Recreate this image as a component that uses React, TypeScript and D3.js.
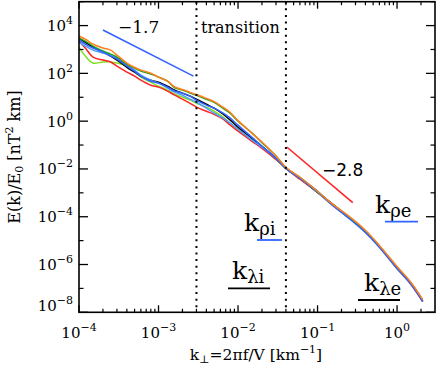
import React from 'react';
import * as d3 from 'd3';

// wavenumber grid (km^-1)
const kValues = [1e-4, 1.2e-4, 1.5e-4, 2e-4, 2.5e-4, 3e-4, 4e-4, 5e-4, 6e-4, 8e-4, 1e-3, 1.3e-3, 1.6e-3, 2e-3, 2.5e-3, 3e-3, 4e-3, 5e-3, 6.5e-3, 8e-3, 0.01, 0.015, 0.02, 0.03, 0.04, 0.06, 0.1, 0.15, 0.25, 0.4, 0.6, 1.0, 1.5, 2.1];

const blackE = [3.0e3, 2.0e3, 1.26e3, 7.8e2, 5.3e2, 3.6e2, 1.8e2, 1.13e2, 77, 52, 43, 29, 20, 14.9, 11.1, 8.3, 5.1, 3.5, 1.95, 1.1, 0.56, 0.19, 0.089, 0.028, 0.0106, 4.1e-3, 1.05e-3, 3.6e-4, 9.4e-5, 2.4e-5, 5.7e-6, 7.5e-7, 1.6e-7, 3.1e-8];
const orangeE = [3.65e3, 2.7e3, 1.68e3, 1.15e3, 9.4e2, 5.8e2, 2.7e2, 1.8e2, 1.37e2, 1.02e2, 70, 47, 27, 21, 16, 13, 9.0, 6.6, 3.8, 2.3, 1.05, 0.31, 0.135, 0.035, 0.0117, 4.5e-3, 1.16e-3, 3.6e-4, 1.03e-4, 2.7e-5, 6.3e-6, 8.3e-7, 1.77e-7, 3.4e-8];
const greenE = [3.0e3, 2.25e3, 1.39e3, 8.6e2, 6.4e2, 4.8e2, 2.4e2, 1.66e2, 1.24e2, 93, 70, 47, 25, 20, 15, 12, 8.2, 6.2, 3.4, 2.1, 1.0, 0.32, 0.125, 0.035, 0.0112, 4.4e-3, 1.12e-3, 3.6e-4, 9.4e-5, 2.4e-5, 5.7e-6, 7.5e-7, 1.6e-7, 3.1e-8];
const redE = [2.25e3, 1.15e3, 4.8e2, 3.6e2, 3.0e2, 2.0e2, 1.13e2, 77, 52, 32, 26.5, 18, 12.2, 8.3, 5.6, 3.85, 2.6, 1.95, 1.21, 0.68, 0.38, 0.144, 0.073, 0.025, 0.0106, 3.7e-3, 1.05e-3, 3.3e-4, 9.4e-5, 2.4e-5, 5.7e-6, 6.8e-7, 1.46e-7, 2.8e-8];
const lightGreenE = [1.26e3, 5.3e2, 2.7e2, 3.0e2, 3.0e2, 2.7e2, 2.0e2, 1.24e2, 70, 43, 29, 20, 13.5, 10.1, 7.6, 5.6, 3.85, 2.6, 1.47, 0.82, 0.46, 0.159, 0.081, 0.025, 0.0106, 4.1e-3, 1.05e-3, 3.6e-4, 9.4e-5, 2.4e-5, 5.7e-6, 6.8e-7, 1.6e-7, 3.1e-8];
const blueE = [2.5e3, 1.68e3, 1.15e3, 7.8e2, 5.3e2, 4.0e2, 2.0e2, 1.24e2, 77, 47, 39, 26.5, 18, 14.9, 11.1, 7.6, 4.7, 3.5, 2.15, 1.33, 0.68, 0.21, 0.089, 0.028, 0.0106, 4.1e-3, 1.16e-3, 3.3e-4, 8.5e-5, 2.2e-5, 5.2e-6, 6.8e-7, 1.46e-7, 2.8e-8];
const lightBlueE = [2.0e3, 1.39e3, 9.4e2, 7.1e2, 5.8e2, 4.4e2, 2.4e2, 1.37e2, 85, 52, 39, 24, 16.4, 12.2, 8.3, 6.2, 3.5, 2.15, 1.33, 0.82, 0.46, 0.159, 0.081, 0.028, 0.0106, 4.1e-3, 1.05e-3, 3.3e-4, 8.5e-5, 2.2e-5, 5.7e-6, 7.5e-7, 1.6e-7, 3.1e-8];

const seriesNames = ['lightGreen', 'red', 'black', 'lightBlue', 'green', 'blue', 'orange'];
const seriesValues = [lightGreenE, redE, blackE, lightBlueE, greenE, blueE, orangeE];
const seriesColors = ['#7ddf1e', '#ff2424', '#000000', '#4f9dff', '#22a522', '#3264ff', '#ff7f1e'];

// power-law guide lines
const fitLowK = [2.0e-4, 2.75e-3];
const fitLowE = [6.5e3, 77];
const fitHighK = [0.041, 0.277];
const fitHighE = [0.083, 3.9e-4];

// transition boundaries
const transitionK = [0.003, 0.04];

const xTickExps = [-4, -3, -2, -1, 0];
const yTickExps = [4, 2, 0, -2, -4, -6, -8];

const W = 436;
const H = 367;
const L = 79, R = 435, T = 1.7, B = 312.3;

const serif = '"DejaVu Serif", "Liberation Serif", serif';
const sans = '"DejaVu Sans", "Liberation Sans", sans-serif';

const sup = (e: number) => (e < 0 ? '\u2212' + Math.abs(e) : String(e));

export default function App() {
  const x = d3.scaleLog().domain([1e-4, 3]).range([L, R]);
  const y = d3.scaleLog().domain([1e-8, 1e5]).range([B, T]);

  const line = d3
    .line<[number, number]>()
    .x((d) => x(d[0]))
    .y((d) => y(d[1]))
    .curve(d3.curveCatmullRom.alpha(0.5));

  const xMinor: number[] = [];
  for (let e = -4; e <= 0; e++) {
    for (let m = 2; m <= 9; m++) {
      const v = m * Math.pow(10, e);
      if (v < 3) xMinor.push(v);
    }
  }
  const yMinor = [5, 3, 1, -1, -3, -5, -7].map((e) => Math.pow(10, e));

  return (
    <svg width={W} height={H} style={{ position: 'absolute', left: 0, top: 0, background: '#fff' }}>
      <defs>
        <clipPath id="plot">
          <rect x={L} y={T} width={R - L} height={B - T} />
        </clipPath>
      </defs>

      <g clipPath="url(#plot)" fill="none" strokeWidth={1.5} strokeLinejoin="round">
        {seriesValues.map((vals, i) => (
          <path
            key={seriesNames[i]}
            d={line(kValues.map((k, j) => [k, vals[j]] as [number, number])) || ''}
            stroke={seriesColors[i]}
          />
        ))}
      </g>

      <line x1={x(fitLowK[0])} y1={y(fitLowE[0])} x2={x(fitLowK[1])} y2={y(fitLowE[1])} stroke="#3264ff" strokeWidth={1.6} />
      <line x1={x(fitHighK[0])} y1={y(fitHighE[0])} x2={x(fitHighK[1])} y2={y(fitHighE[1])} stroke="#ff2424" strokeWidth={1.6} />

      {transitionK.map((k) => (
        <line key={k} x1={x(k)} x2={x(k)} y1={T} y2={B} stroke="#000" strokeWidth={2} strokeDasharray="2,4.6" />
      ))}

      <rect x={L} y={T} width={R - L} height={B - T} fill="none" stroke="#000" strokeWidth={1.6} />

      {xTickExps.map((e) => {
        const px = x(Math.pow(10, e));
        return (
          <g key={'xt' + e}>
            <line x1={px} x2={px} y1={B} y2={B - 7} stroke="#000" strokeWidth={1.3} />
            <line x1={px} x2={px} y1={T} y2={T + 7} stroke="#000" strokeWidth={1.3} />
            <text x={px} y={338} textAnchor="middle" fontFamily={serif} fontSize={15} fill="#000">
              10<tspan dy={-7} fontSize={11}>{sup(e)}</tspan>
            </text>
          </g>
        );
      })}
      {xMinor.map((v, i) => {
        const px = x(v);
        return (
          <g key={'xm' + i}>
            <line x1={px} x2={px} y1={B} y2={B - 3.5} stroke="#000" strokeWidth={1.2} />
            <line x1={px} x2={px} y1={T} y2={T + 3.5} stroke="#000" strokeWidth={1.2} />
          </g>
        );
      })}

      {yTickExps.map((e) => {
        const py = y(Math.pow(10, e));
        const base = e === -8 ? B - 1 : py + 5.5;
        return (
          <g key={'yt' + e}>
            <line x1={L} x2={L + 9} y1={py} y2={py} stroke="#000" strokeWidth={1.3} />
            <line x1={R} x2={R - 9} y1={py} y2={py} stroke="#000" strokeWidth={1.3} />
            <text x={73} y={base} textAnchor="end" fontFamily={serif} fontSize={15} fill="#000">
              10<tspan dy={-7} fontSize={11}>{sup(e)}</tspan>
            </text>
          </g>
        );
      })}
      {yMinor.map((v, i) => {
        const py = y(v);
        return (
          <g key={'ym' + i}>
            <line x1={L} x2={L + 4.5} y1={py} y2={py} stroke="#000" strokeWidth={1.2} />
            <line x1={R} x2={R - 4.5} y1={py} y2={py} stroke="#000" strokeWidth={1.2} />
          </g>
        );
      })}

      <text x={256} y={360} textAnchor="middle" fontFamily={serif} fontSize={15.5} fill="#000" style={{ whiteSpace: 'pre' }}>
        k<tspan dy={3} fontSize={11}>{'\u22a5'}</tspan>
        <tspan dy={-3}>{'=2\u03c0f/V [km'}</tspan>
        <tspan dy={-7} fontSize={11}>{'\u22121'}</tspan>
        <tspan dy={7}>]</tspan>
      </text>
      <text transform="translate(20,157) rotate(-90)" textAnchor="middle" fontFamily={serif} fontSize={16} fill="#000" style={{ whiteSpace: 'pre' }}>
        E(k)/E<tspan dy={3} fontSize={11}>0</tspan>
        <tspan dy={-3}>{' [nT'}</tspan>
        <tspan dy={-7} fontSize={11}>2</tspan>
        <tspan dy={7}>{' km]'}</tspan>
      </text>

      <text x={118} y={33} fontFamily={serif} fontSize={17} fill="#000">{'\u22121.7'}</text>
      <text x={201} y={33} fontFamily={serif} fontSize={16} fill="#000">transition</text>
      <text x={322} y={176} fontFamily={sans} fontSize={17} fill="#000">{'\u22122.8'}</text>

      <text x={244} y={231} fontFamily={serif} fontSize={25} fill="#000">
        k<tspan dy={4} fontSize={18}>{'\u03c1i'}</tspan>
      </text>
      <line x1={257} x2={282} y1={240} y2={240} stroke="#3264ff" strokeWidth={1.8} />

      <text x={232} y={279} fontFamily={serif} fontSize={25} fill="#000">
        k<tspan dy={4} fontSize={18}>{'\u03bbi'}</tspan>
      </text>
      <line x1={228} x2={270} y1={288.3} y2={288.3} stroke="#000" strokeWidth={1.8} />

      <text x={375} y={213} fontFamily={serif} fontSize={25} fill="#000">
        k<tspan dy={4} fontSize={18}>{'\u03c1e'}</tspan>
      </text>
      <line x1={385} x2={418} y1={221.7} y2={221.7} stroke="#3264ff" strokeWidth={1.8} />

      <text x={364} y={291} fontFamily={serif} fontSize={25} fill="#000">
        k<tspan dy={4} fontSize={18}>{'\u03bbe'}</tspan>
      </text>
      <line x1={358} x2={400} y1={300} y2={300} stroke="#000" strokeWidth={1.8} />
    </svg>
  );
}
